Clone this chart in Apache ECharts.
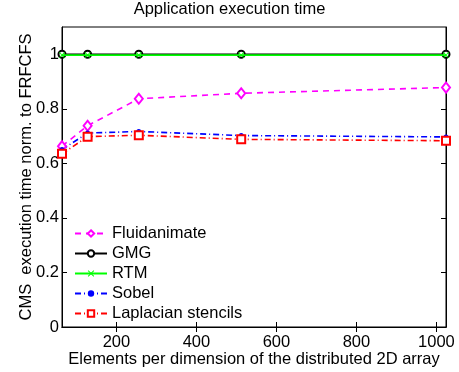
<!DOCTYPE html>
<html>
<head>
<meta charset="utf-8">
<script src="https://cdn.jsdelivr.net/npm/echarts@6/dist/echarts.min.js"></script>
<style>html,body{margin:0;padding:0;background:#fff}#c{width:459px;height:372px}</style>
</head>
<body>
<div id="c"></div>
<script>
const xValues = [64, 128, 256, 512, 1024];
const fluidanimate = [0.663, 0.738, 0.837, 0.857, 0.878];
const gmg = [1.0, 1.0, 1.0, 1.0, 1.0];
const rtm = [0.997, 0.997, 0.997, 0.997, 0.997];
const sobel = [0.651, 0.711, 0.717, 0.702, 0.697];
const laplacian = [0.635, 0.698, 0.703, 0.688, 0.683];
const xTicks = [200, 400, 600, 800, 1000];
const yTicks = [0, 0.2, 0.4, 0.6, 0.8, 1];

const FONT = 'Liberation Sans, Arial, Helvetica, sans-serif';
const FS = 16.5;
const pairs = arr => xValues.map((x, i) => [x, arr[i]]);
const xShape = 'path://M1,0 L5,4 L9,0 L10,1 L6,5 L10,9 L9,10 L5,6 L1,10 L0,9 L4,5 L0,1 Z';

const chart = echarts.init(document.getElementById('c'), null, {renderer: 'canvas'});
chart.setOption({
  animation: false,
  backgroundColor: '#fff',
  title: {
    text: 'Application execution time',
    left: 'center', top: -4,
    textStyle: {fontFamily: FONT, fontSize: FS, fontWeight: 'normal', color: '#000'}
  },
  grid: {left: 62, right: 13, top: 27, bottom: 45, containLabel: false, outerBoundsMode: 'none',
         show: true, borderColor: '#000', borderWidth: 1, backgroundColor: '#fff'},
  legend: {
    orient: 'vertical', left: 74, top: 225, padding: 0,
    itemWidth: 32, itemHeight: 8, itemGap: 3,
    textStyle: {fontFamily: FONT, fontSize: FS, color: '#000'},
    data: ['Fluidanimate', 'GMG', 'RTM', 'Sobel', 'Laplacian stencils']
  },
  xAxis: [{
    type: 'value', min: 64, max: 1024,
    name: 'Elements per dimension of the distributed 2D array',
    nameLocation: 'middle', nameGap: 24, nameMoveOverlap: false,
    nameTextStyle: {fontFamily: FONT, fontSize: FS, color: '#000'},
    axisLine: {show: true, lineStyle: {color: '#000', width: 1}},
    axisTick: {show: true, inside: true, length: 5, customValues: xTicks, lineStyle: {color: '#000'}},
    axisLabel: {show: true, customValues: xTicks, margin: 7, fontFamily: FONT, fontSize: FS, color: '#000',
                formatter: v => String(v)},
    splitLine: {show: false}
  }, {
    type: 'value', min: 64, max: 1024, position: 'top',
    axisLine: {show: true, lineStyle: {color: '#000', width: 1}},
    axisTick: {show: true, inside: true, length: 5, customValues: xTicks, lineStyle: {color: '#000'}},
    axisLabel: {show: false},
    splitLine: {show: false}
  }],
  yAxis: [{
    type: 'value', min: 0, max: 1.1,
    name: 'CMS  execution time norm. to FRFCFS',
    nameLocation: 'middle', nameGap: 27, nameMoveOverlap: false,
    nameTextStyle: {fontFamily: FONT, fontSize: FS, color: '#000'},
    axisLine: {show: true, lineStyle: {color: '#000', width: 1}},
    axisTick: {show: true, inside: true, length: 5, customValues: yTicks, lineStyle: {color: '#000'}},
    axisLabel: {show: true, customValues: yTicks, margin: 3, fontFamily: FONT, fontSize: FS, color: '#000',
                formatter: v => String(v)},
    splitLine: {show: false}
  }, {
    type: 'value', min: 0, max: 1.1, position: 'right',
    axisLine: {show: true, lineStyle: {color: '#000', width: 1}},
    axisTick: {show: true, inside: true, length: 5, customValues: yTicks, lineStyle: {color: '#000'}},
    axisLabel: {show: false},
    splitLine: {show: false}
  }],
  series: [{
    name: 'Fluidanimate', type: 'line', data: pairs(fluidanimate),
    symbol: 'emptyDiamond', symbolSize: [8, 10],
    lineStyle: {color: '#ff00ff', width: 1.6, type: [6, 5]},
    itemStyle: {color: '#ff00ff', borderColor: '#ff00ff', borderWidth: 1.5},
    emphasis: {disabled: true}, z: 3
  }, {
    name: 'GMG', type: 'line', data: pairs(gmg),
    symbol: 'emptyCircle', symbolSize: 7,
    lineStyle: {color: '#000', width: 1.6},
    itemStyle: {color: '#000', borderColor: '#000', borderWidth: 1.6},
    emphasis: {disabled: true}, z: 2
  }, {
    name: 'RTM', type: 'line', data: pairs(rtm),
    symbol: xShape, symbolSize: 6,
    lineStyle: {color: '#00ff00', width: 1.6},
    itemStyle: {color: '#00ff00', borderColor: '#00ff00', borderWidth: 0},
    emphasis: {disabled: true}, z: 4
  }, {
    name: 'Sobel', type: 'line', data: pairs(sobel),
    symbol: 'circle', symbolSize: 5,
    lineStyle: {color: '#0000ff', width: 1.6, type: [6, 3, 1, 3]},
    itemStyle: {color: '#0000ff', borderColor: '#0000ff', borderWidth: 0},
    emphasis: {disabled: true}, z: 3
  }, {
    name: 'Laplacian stencils', type: 'line', data: pairs(laplacian),
    symbol: 'emptyRect', symbolSize: 8,
    lineStyle: {color: '#ff0000', width: 1.6, type: [6, 3, 1, 3]},
    itemStyle: {color: '#ff0000', borderColor: '#ff0000', borderWidth: 1.6},
    emphasis: {disabled: true}, z: 3
  }]
});
</script>
</body>
</html>
